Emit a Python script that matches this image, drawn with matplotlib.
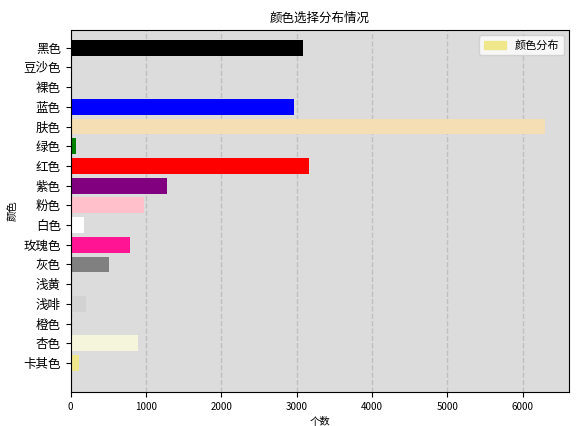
import matplotlib
matplotlib.use("Agg")
import matplotlib.pyplot as plt

plt.rcParams['font.family'] = ['Noto Sans CJK SC', 'DejaVu Sans']

categories = ['卡其色', '杏色', '橙色', '浅啡', '浅黄', '灰色', '玫瑰色', '白色', '粉色', '紫色',
              '红色', '绿色', '肤色', '蓝色', '裸色', '豆沙色', '黑色']
values = [107, 902, 0, 205, 18, 513, 795, 179, 969, 1277, 3160, 71, 6300, 2960, 0, 0, 3080]
colors = ['khaki', 'beige', 'orange', 'lightgray', 'yellow', 'gray', 'deeppink', 'white', 'pink', 'purple',
          'red', 'green', 'wheat', 'blue', 'tan', 'rosybrown', 'black']

fig, ax = plt.subplots(figsize=(5.78, 4.26), dpi=100)
ax.set_facecolor('gainsboro')
ax.barh(categories, values, color=colors, label='颜色分布')
ax.grid(axis='x', linestyle='--', color='#c0c0c0', linewidth=1)
ax.set_axisbelow(True)
ax.set_title('颜色选择分布情况', fontsize=9)
ax.set_xlabel('个数', fontsize=7.5)
ax.set_ylabel('颜色', fontsize=7.5)
ax.tick_params(axis='x', labelsize=7)
ax.tick_params(axis='y', labelsize=9)
ax.set_ylim(-1.47, 16.91)
ax.set_xlim(0, 6620)
leg = ax.legend(loc='upper right', fontsize=8)
leg.legend_handles[0].set_color('khaki')
fig.subplots_adjust(left=0.122, right=0.985, top=0.93, bottom=0.08)
fig.savefig('out.png')
